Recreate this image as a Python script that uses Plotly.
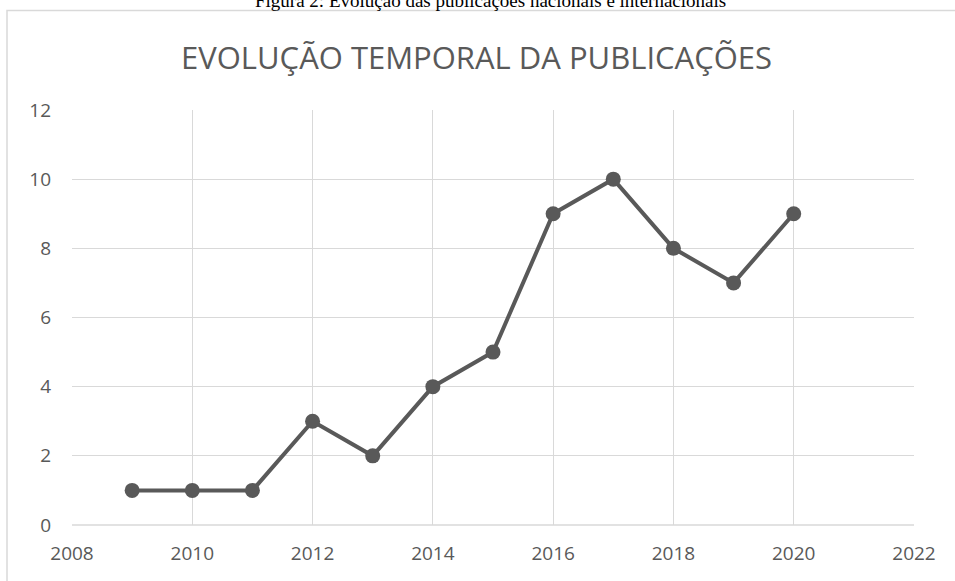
import plotly.graph_objects as go

years = [2009, 2010, 2011, 2012, 2013, 2014, 2015, 2016, 2017, 2018, 2019, 2020]
publications = [1, 1, 1, 3, 2, 4, 5, 9, 10, 8, 7, 9]
x_ticks = [2008, 2010, 2012, 2014, 2016, 2018, 2020, 2022]
y_ticks = [0, 2, 4, 6, 8, 10, 12]

title_text = "EVOLUÇÃO TEMPORAL DA PUBLICAÇÕES"
caption_text = "Figura 2: Evolução das publicações nacionais e internacionais"

W, H = 955, 581
L, R, T, B = 72, 41, 110, 56
pw, ph = W - L - R, H - T - B

def px_x(p):
    return (p - L) / pw

def px_y(p):
    return (H - B - p) / ph

fig = go.Figure()
fig.add_trace(go.Scatter(
    x=years, y=publications, mode="lines+markers",
    line=dict(color="#595959", width=4),
    marker=dict(color="#595959", size=15),
    showlegend=False,
))

axis_font = dict(family="Open Sans, Liberation Sans, sans-serif", size=19, color="#595959")

fig.update_layout(
    width=W, height=H,
    margin=dict(l=L, r=R, t=T, b=B),
    paper_bgcolor="white", plot_bgcolor="white",
    xaxis=dict(range=[2008, 2022], tickvals=x_ticks, showgrid=True, gridcolor="#d9d9d9",
               gridwidth=1.2, zeroline=False, showline=False, tickfont=axis_font,
               ticks="", ticklabelstandoff=15, fixedrange=True),
    yaxis=dict(range=[0, 12], tickvals=y_ticks, showgrid=True, gridcolor="#d9d9d9",
               gridwidth=1.2, zeroline=False, showline=False, tickfont=axis_font,
               ticks="", ticklabelstandoff=20, fixedrange=True),
    shapes=[
        dict(type="rect", xref="paper", yref="paper",
             x0=px_x(7), x1=px_x(1000), y0=px_y(640), y1=px_y(10.5),
             line=dict(color="#d9d9d9", width=1.5), fillcolor="rgba(0,0,0,0)", layer="below"),
        dict(type="line", xref="paper", yref="paper",
             x0=0, x1=1, y0=0, y1=0, line=dict(color="#d9d9d9", width=1.5)),
    ],
    annotations=[
        dict(text=title_text, xref="paper", yref="paper", x=px_x(476), y=px_y(57),
             xanchor="center", yanchor="middle", showarrow=False,
             font=dict(family="Open Sans, Liberation Sans, sans-serif", size=31, color="#595959")),
        dict(text=caption_text, xref="paper", yref="paper", x=px_x(490), y=px_y(0),
             xanchor="center", yanchor="middle", showarrow=False,
             font=dict(family="Liberation Serif, Times New Roman, serif", size=19, color="black")),
    ],
)

fig.write_html("out.html", config={"displayModeBar": False},
               post_script="document.body.style.margin='0';document.body.style.overflow='hidden';")
